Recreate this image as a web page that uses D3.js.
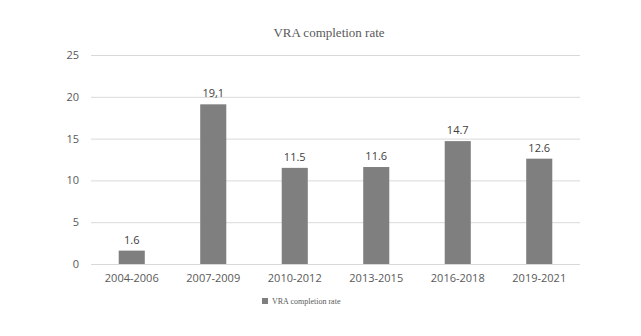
<!DOCTYPE html>
<html>
<head>
<meta charset="utf-8">
<script src="https://cdn.jsdelivr.net/npm/d3@7"></script>
<style>
  body { margin: 0; background: #fff; }
  svg { display: block; }
</style>
</head>
<body>
<div id="chart"></div>
<script>
// data
var periods = ["2004-2006", "2007-2009", "2010-2012", "2013-2015", "2016-2018", "2019-2021"];
var rates = [1.6, 19.1, 11.5, 11.6, 14.7, 12.6];
var rateLabels = ["1.6", "19,1", "11.5", "11.6", "14.7", "12.6"];
var yTicks = [0, 5, 10, 15, 20, 25];

var width = 641, height = 336;
var plotLeft = 91, plotRight = 580, plotTop = 55, plotBottom = 264;

var svg = d3.select("#chart").append("svg")
    .attr("width", width)
    .attr("height", height);

var x = d3.scaleBand().domain(periods).range([plotLeft, plotRight]).paddingInner(0.68).paddingOuter(0.34);
var y = d3.scaleLinear().domain([0, 25]).range([plotBottom, plotTop]);

// gridlines
svg.append("g").selectAll("line")
    .data(yTicks)
    .enter()
    .append("line")
      .attr("x1", plotLeft)
      .attr("x2", plotRight)
      .attr("y1", function(d) { return y(d) + 0.5; })
      .attr("y2", function(d) { return y(d) + 0.5; })
      .attr("stroke", "#d9d9d9")
      .attr("stroke-width", 1);

// y axis labels
var yAxis = svg.append("g")
    .attr("transform", "translate(" + (plotLeft - 12) + ",0)")
    .call(d3.axisLeft(y).tickValues(yTicks).tickSize(0).tickPadding(0));
yAxis.select(".domain").remove();
yAxis.selectAll("text")
    .attr("font-family", "'Open Sans', sans-serif")
    .attr("font-size", 11)
    .attr("fill", "#595959");

// x axis labels
var xAxis = svg.append("g")
    .attr("transform", "translate(0," + plotBottom + ")")
    .call(d3.axisBottom(x).tickSize(0).tickPadding(10));
xAxis.select(".domain").remove();
xAxis.selectAll("text")
    .attr("font-family", "'Open Sans', sans-serif")
    .attr("font-size", 11)
    .attr("fill", "#595959");

// bars
svg.selectAll("rect.bar")
    .data(rates)
    .enter()
    .append("rect")
      .attr("class", "bar")
      .attr("x", function(d, i) { return x(periods[i]); })
      .attr("y", function(d) { return y(d); })
      .attr("width", x.bandwidth())
      .attr("height", function(d) { return plotBottom - y(d); })
      .attr("fill", "#7f7f7f");

// value labels
svg.selectAll("text.val")
    .data(rates)
    .enter()
    .append("text")
      .attr("class", "val")
      .attr("x", function(d, i) { return x(periods[i]) + x.bandwidth() / 2; })
      .attr("y", function(d) { return y(d) - 7; })
      .attr("text-anchor", "middle")
      .attr("font-family", "'Open Sans', sans-serif")
      .attr("font-size", 11)
      .attr("fill", "#404040")
      .text(function(d, i) { return rateLabels[i]; });

// title
svg.append("text")
    .attr("x", 329)
    .attr("y", 37)
    .attr("text-anchor", "middle")
    .attr("font-family", "'Liberation Serif', serif")
    .attr("font-size", 13)
    .attr("fill", "#595959")
    .text("VRA completion rate");

// legend
svg.append("rect")
    .attr("x", 262)
    .attr("y", 298)
    .attr("width", 6)
    .attr("height", 6)
    .attr("fill", "#7f7f7f");
svg.append("text")
    .attr("x", 272)
    .attr("y", 304)
    .attr("font-family", "'Liberation Serif', serif")
    .attr("font-size", 8)
    .attr("fill", "#595959")
    .text("VRA completion rate");
</script>
</body>
</html>
